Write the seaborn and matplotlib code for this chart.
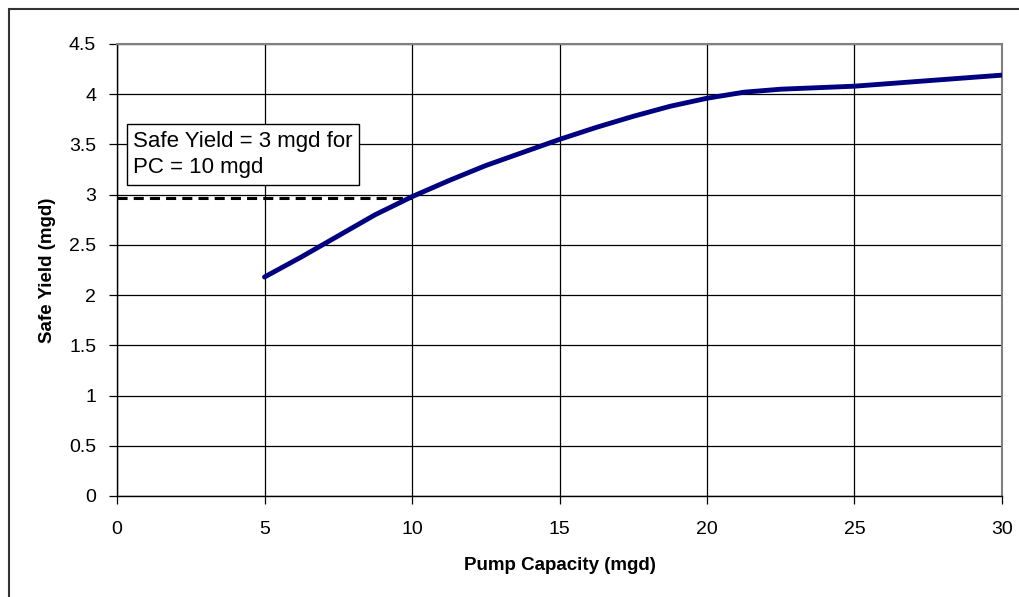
import matplotlib
matplotlib.use("Agg")
import matplotlib.pyplot as plt
import seaborn as sns
import pandas as pd
from matplotlib.patches import Rectangle

pump_capacity = [5, 6.25, 7.5, 8.75, 10, 11.25, 12.5, 13.75, 15, 16.25, 17.5,
                 18.75, 20, 21.25, 22.5, 25, 27.5, 30]
safe_yield = [2.18, 2.38, 2.59, 2.80, 2.98, 3.14, 3.29, 3.42, 3.55, 3.67, 3.78,
              3.88, 3.96, 4.02, 4.05, 4.08, 4.135, 4.19]
ref_x = [0, 10]
ref_y = [2.97, 2.97]
x_ticks = [0, 5, 10, 15, 20, 25, 30]
y_ticks = [0, 0.5, 1, 1.5, 2, 2.5, 3, 3.5, 4, 4.5]
y_tick_labels = ["0", "0.5", "1", "1.5", "2", "2.5", "3", "3.5", "4", "4.5"]
annotation = "Safe Yield = 3 mgd for\nPC = 10 mgd"

sns.set_theme(style="white")
plt.rcParams['font.family'] = ['Liberation Sans', 'DejaVu Sans']
plt.rcParams['text.color'] = 'black'
plt.rcParams['axes.labelcolor'] = 'black'
plt.rcParams['xtick.color'] = 'black'
plt.rcParams['ytick.color'] = 'black'

fig = plt.figure(figsize=(10.19, 5.97), dpi=100)
ax = fig.add_axes([117/1019, 1-496/597, (1002-117)/1019, (496-44)/597])

df = pd.DataFrame({"pc": pump_capacity, "sy": safe_yield})
sns.lineplot(data=df, x="pc", y="sy", ax=ax, color="#000080", linewidth=3.5, zorder=4)
ax.plot(ref_x, ref_y, color="black", linestyle=(0, (3.3, 2)), linewidth=2.2, zorder=3)

ax.set_xlim(0, 30)
ax.set_ylim(0, 4.5)
ax.set_xticks(x_ticks)
ax.set_xticklabels([str(t) for t in x_ticks])
ax.set_yticks(y_ticks)
ax.set_yticklabels(y_tick_labels)
ax.grid(True, color="black", linewidth=0.9)
ax.set_axisbelow(True)
ax.tick_params(axis="both", direction="out", length=6, width=0.9, color="black",
               labelsize=14, left=True, bottom=True, labelcolor="black")
ax.tick_params(axis="y", pad=9)
ax.tick_params(axis="x", pad=12)

for side in ["left", "bottom"]:
    ax.spines[side].set_color("black")
    ax.spines[side].set_linewidth(1.0)
for side in ["top", "right"]:
    ax.spines[side].set_color("#808080")
    ax.spines[side].set_linewidth(1.5)

ax.set_xlabel("Pump Capacity (mgd)", fontsize=13.5, fontweight="bold", labelpad=14, color="black")
ax.set_ylabel("Safe Yield (mgd)", fontsize=13.5, fontweight="bold", labelpad=9, color="black")

ax.text(0.55, 3.40, annotation, fontsize=16, va="center", ha="left", zorder=5,
        linespacing=1.3, color="black",
        bbox=dict(boxstyle="square,pad=0.3", facecolor="white", edgecolor="black", linewidth=1.0))

fig.patches.append(Rectangle((9/1019, -0.1), 1.2, 1 - 8.5/597 + 0.1, transform=fig.transFigure,
                             fill=False, edgecolor="#333333", linewidth=1.5))

fig.savefig("out.png", dpi=100)
